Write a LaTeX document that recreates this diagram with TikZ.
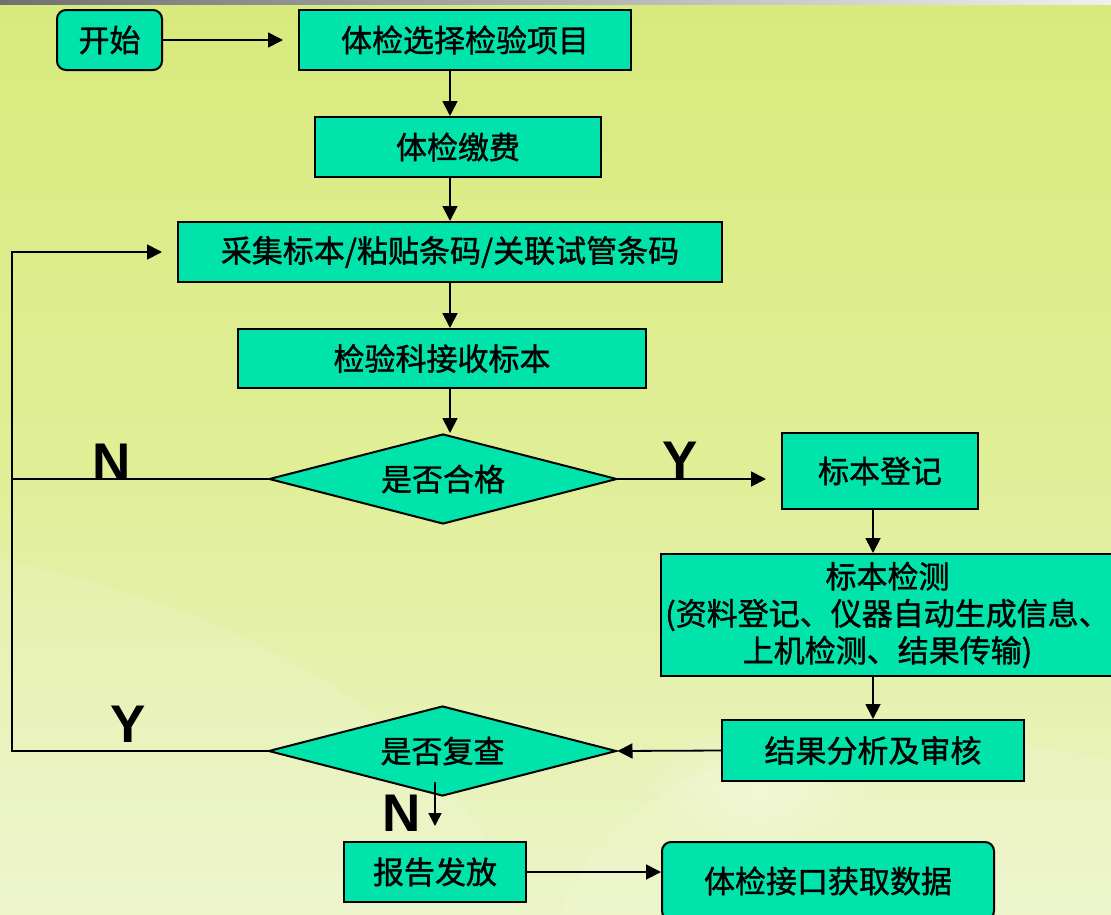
\documentclass[tikz,border=0pt]{standalone}
\usepackage{fontspec}
\newfontfamily\cjk[FakeBold=1.2]{Noto Sans CJK SC}
\newfontfamily\ynfont{Liberation Sans}
\usetikzlibrary{shapes.geometric,arrows.meta}
\definecolor{boxfill}{RGB}{0,227,170}
\definecolor{bgtop}{RGB}{216,234,124}
\definecolor{bgmid}{RGB}{224,238,150}
\definecolor{bgbot}{RGB}{236,244,200}
\definecolor{barleft}{RGB}{112,112,112}
\definecolor{barright}{RGB}{240,240,240}
\begin{document}
\begin{tikzpicture}[x=1pt,y=-1pt,
  box/.style={draw=black, line width=2pt, fill=boxfill, inner sep=0pt,
    font=\cjk\fontsize{31}{37}\selectfont, align=center},
  rbox/.style={box, rounded corners=9pt},
  dia/.style={box, diamond, aspect=3.87, minimum width=348pt, minimum height=90pt},
  ln/.style={line width=1.8pt},
  arr/.style={ln, -{Triangle[length=15pt,width=15pt]}},
  yn/.style={font=\ynfont\bfseries\fontsize{53}{53}\selectfont, inner sep=0pt}]
\useasboundingbox (0,0) rectangle (1111,914);
% background
\shade[top color=bgtop, bottom color=bgbot, middle color=bgmid] (0,0) rectangle (1111,914);
\fill[white, opacity=0.12] (0,560) .. controls (200,600) and (450,700) .. (520,914) -- (0,914) -- cycle;
\fill[white, opacity=0.10] (560,914) .. controls (620,760) and (820,700) .. (1111,760) -- (1111,914) -- cycle;
\shade[inner color=white, outer color=bgbot, opacity=0.35] (760,790) ellipse (110pt and 60pt);
\shade[left color=barleft, right color=barright] (0,0) rectangle (1111,4);
% column guides
\coordinate (cx) at (450,0);
\coordinate (rx) at (873,0);
% nodes
\node[rbox, minimum width=105pt, minimum height=60pt] (start) at (109.5,40) {开始};
\node[box, minimum width=332pt, minimum height=60pt] (select) at (465,40) {体检选择检验项目};
\node[box, minimum width=286pt, minimum height=60pt] (fee) at (458,147) {体检缴费};
\node[box, minimum width=544pt, minimum height=60pt] (collect) at (450,252) {采集标本/粘贴条码/关联试管条码};
\node[box, minimum width=408pt, minimum height=59pt] (recv) at (442,358.5) {检验科接收标本};
\node[dia] (q1) at (443,479) {是否合格};
\node[box, minimum width=196pt, minimum height=76pt] (reg) at (880,471) {标本登记};
\node[box, minimum width=453pt, minimum height=122pt] (test) at (887.5,615) {标本检测\\(资料登记、仪器自动生成信息、\\上机检测、结果传输)};
\node[box, minimum width=302pt, minimum height=61pt] (result) at (873,750.5) {结果分析及审核};
\node[dia] (q2) at (442.5,751) {是否复查};
\node[box, minimum width=182pt, minimum height=60pt] (report) at (435,872) {报告发放};
\node[rbox, minimum width=332pt, minimum height=78pt] (iface) at (828,881) {体检接口获取数据};
% labels
\node[yn] (n1) at (112,462) {N};
\node[yn] (y1) at (680,460) {Y};
\node[yn] (y2) at (128,724) {Y};
\node[yn] (n2) at (402,813) {N};
% connectors
\draw[arr, shorten >=15pt] (start.east) -- (select.west);
\draw[arr] (select.south -| cx) -- (fee.north -| cx);
\draw[arr] (fee.south -| cx) -- (collect.north -| cx);
\draw[arr] (collect.south -| cx) -- (recv.north -| cx);
\draw[arr] (recv.south -| cx) -- (cx |- q1.north);
\draw[arr, shorten >=15pt] (q1.east) -- (reg.west |- q1.east);
\coordinate (L1) at (12,479);
\coordinate (L2) at (12,751);
\draw[ln] (q1.west) -- (L1);
\draw[arr, shorten >=15pt] (q2.west) -- (L2) |- (collect.west);
\draw[arr] (reg.south -| rx) -- (test.north -| rx);
\draw[arr] (test.south -| rx) -- (result.north -| rx);
\draw[arr] (result.west) -- (q2.east);
\coordinate (na) at (435,782);
\coordinate (nb) at (435,826);
\draw[line width=1.5pt, -{Triangle[length=13pt,width=13pt]}] (na) -- (nb);
\draw[arr] (report.east) -- (report.east -| iface.west);
\end{tikzpicture}
\end{document}
